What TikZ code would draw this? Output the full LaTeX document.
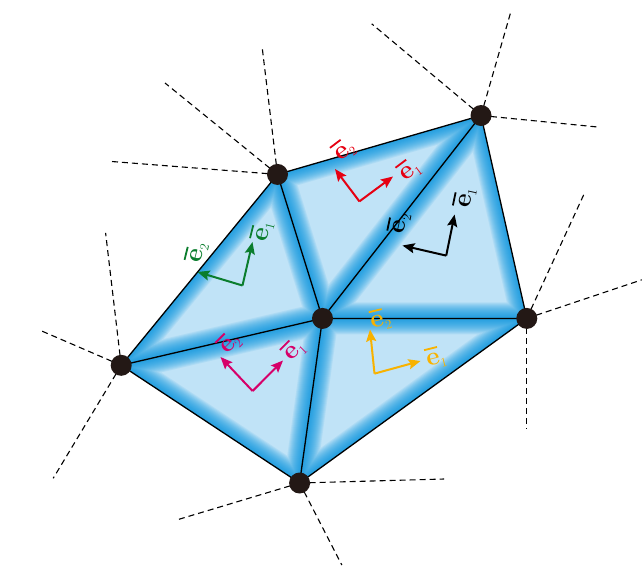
\documentclass[tikz,border=0pt]{standalone}
\usepackage{amsmath}
\usetikzlibrary{arrows.meta}
\definecolor{lightblue}{RGB}{192,227,247}
\definecolor{edgeblue}{RGB}{0,146,224}
\definecolor{dotcol}{RGB}{35,24,21}
\definecolor{cgreen}{RGB}{10,125,45}
\definecolor{cred}{RGB}{230,0,18}
\definecolor{cmag}{RGB}{214,0,105}
\definecolor{cyel}{RGB}{248,178,0}
\tikzset{
  dot/.style={circle,fill=dotcol,inner sep=0pt,minimum size=21pt},
  dashline/.style={black,line width=1.1pt,dash pattern=on 6pt off 4pt},
  meshedge/.style={black,line width=1.3pt},
  vec/.style={line width=2pt,-{Stealth[length=12pt,width=10pt,inset=2pt]}},
  lab/.style={inner sep=0pt}
}
\newcommand{\vecE}[1]{{\fontsize{26}{26}\selectfont\bfseries
  \setbox0\hbox{e}\vbox{\hrule height 1.8pt width \wd0 \kern 4pt \box0}}%
  \raisebox{-4pt}{\fontsize{13}{13}\selectfont #1}}
\newcommand{\glowtri}[3]{%
  \begin{scope}
    \clip (#1)--(#2)--(#3)--cycle;
    \fill[lightblue] (#1)--(#2)--(#3)--cycle;
    \foreach \w in {32,30,...,2}
      \draw[edgeblue,line width=\w pt,opacity=0.09,line join=round] (#1)--(#2)--(#3)--cycle;
  \end{scope}}
\begin{document}
\begin{tikzpicture}[x=1pt,y=-1pt]
\useasboundingbox (0,0) rectangle (642,566);
% vertices
\coordinate (A) at (277.5,174.4);
\coordinate (B) at (481,115.5);
\coordinate (C) at (526.8,318.4);
\coordinate (D) at (299.6,483);
\coordinate (E) at (121.2,365.3);
\coordinate (O) at (322.5,318.4);
% dashed end points
\coordinate (a1) at (262,46);
\coordinate (a2) at (165,83);
\coordinate (a3) at (110.5,161.4);
\coordinate (b1) at (371.7,23.8);
\coordinate (b2) at (510.8,11.9);
\coordinate (b3) at (597.6,127);
\coordinate (c1) at (585.3,191.3);
\coordinate (c2) at (641.8,279.8);
\coordinate (c3) at (526.8,428.5);
\coordinate (e1) at (105.6,232.9);
\coordinate (e2) at (40.1,330.3);
\coordinate (e3) at (53.2,478.3);
\coordinate (d1) at (444.1,479);
\coordinate (d2) at (176.8,519.9);
\coordinate (d3) at (341.8,565);
% dashed lines
\foreach \v/\p in {A/a1,A/a2,A/a3,B/b1,B/b2,B/b3,C/c1,C/c2,C/c3,E/e1,E/e2,E/e3,D/d1,D/d2,D/d3}
  \draw[dashline] (\v) -- (\p);
% triangles
\glowtri{O}{A}{E}
\glowtri{O}{A}{B}
\glowtri{O}{B}{C}
\glowtri{O}{C}{D}
\glowtri{O}{D}{E}
\draw[meshedge,line join=round] (A)--(B)--(C)--(D)--(E)--cycle;
\draw[meshedge] (O)--(A) (O)--(B) (O)--(C) (O)--(D) (O)--(E);
% vertex dots
\foreach \v in {A,B,C,D,E,O}
  \node[dot] (n\v) at (\v) {};
% green frame
\coordinate (go) at (242.5,285.5);
\coordinate (g1) at (252.5,242);
\coordinate (g2) at (197.5,272);
\draw[vec,cgreen] (go) -- (g1);
\draw[vec,cgreen] (go) -- (g2);
\node[lab,text=cgreen,rotate=76] (lg1) at (262,231) {\vecE{1}};
\node[lab,text=cgreen,rotate=76] (lg2) at (196.5,252.7) {\vecE{2}};
% red frame
\coordinate (ro) at (359.4,201.4);
\coordinate (r1) at (393,176.5);
\coordinate (r2) at (335,169);
\draw[vec,cred] (ro) -- (r1);
\draw[vec,cred] (ro) -- (r2);
\node[lab,text=cred,rotate=37] (lr1) at (409.3,169.7) {\vecE{1}};
\node[lab,text=cred,rotate=37] (lr2) at (343.8,149.8) {\vecE{2}};
% black frame
\coordinate (ko) at (446.2,255.6);
\coordinate (k1) at (454.6,214.5);
\coordinate (k2) at (402.5,245.5);
\draw[vec,black] (ko) -- (k1);
\draw[vec,black] (ko) -- (k2);
\node[lab,text=black,rotate=78] (lk1) at (464.6,197.8) {\vecE{1}};
\node[lab,text=black,rotate=78] (lk2) at (399,223) {\vecE{2}};
% magenta frame
\coordinate (mo) at (252.6,391);
\coordinate (m1) at (283,360.5);
\coordinate (m2) at (220.5,357);
\draw[vec,cmag] (mo) -- (m1);
\draw[vec,cmag] (mo) -- (m2);
\node[lab,text=cmag,rotate=45] (lm1) at (293.9,350) {\vecE{1}};
\node[lab,text=cmag,rotate=45] (lm2) at (229.2,343) {\vecE{2}};
% yellow frame
\coordinate (yo) at (374.5,373.6);
\coordinate (y1) at (420.5,361);
\coordinate (y2) at (370,329.5);
\draw[vec,cyel] (yo) -- (y1);
\draw[vec,cyel] (yo) -- (y2);
\node[lab,text=cyel,rotate=14] (ly1) at (436,357.4) {\vecE{1}};
\node[lab,text=cyel,rotate=14] (ly2) at (380.7,319.5) {\vecE{2}};
\end{tikzpicture}
\end{document}
